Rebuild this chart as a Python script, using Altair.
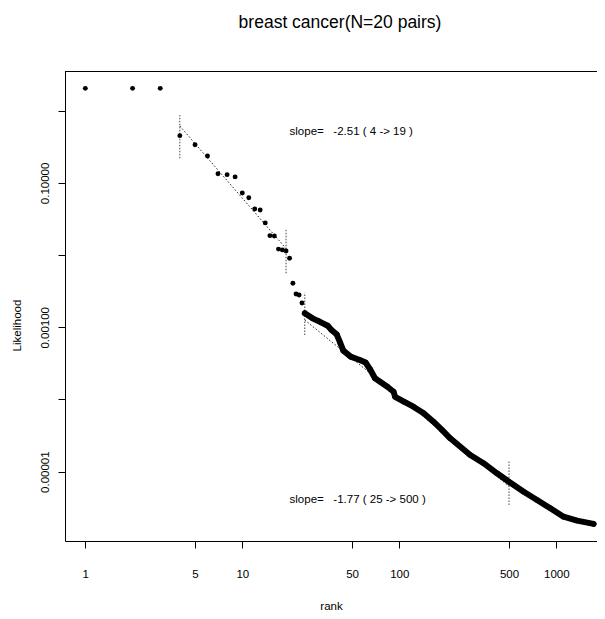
import altair as alt
import pandas as pd

FONT = "Liberation Sans, Arial, Helvetica, sans-serif"

# discrete points (rank, likelihood)
sparse_rank = list(range(1, 26))
sparse_lik = [2.04, 2.04, 2.04, 0.451, 0.338, 0.236, 0.134, 0.130, 0.121, 0.0725,
              0.0624, 0.0435, 0.0421, 0.0279, 0.0186, 0.0184, 0.0121, 0.0118, 0.0114,
              0.00903, 0.00407, 0.00289, 0.00280, 0.00217, 0.00159]

# dense tail (read along the thick strand of points)
dense_rank = [25, 28, 31, 35, 37, 40, 42, 44, 49, 56, 61, 65, 70, 84, 92, 94, 107,
              123, 143, 165, 187, 211, 283, 344, 419, 505, 620, 754, 916, 1112, 1355, 1729]
dense_lik = [1.56e-3, 1.33e-3, 1.20e-3, 1.05e-3, 9.18e-4, 7.94e-4, 6.12e-4, 4.74e-4,
             3.92e-4, 3.52e-4, 3.25e-4, 2.64e-4, 1.97e-4, 1.50e-4, 1.28e-4, 1.09e-4,
             9.33e-5, 7.94e-5, 6.44e-5, 4.93e-5, 3.79e-5, 2.90e-5, 1.70e-5, 1.31e-5,
             9.5e-6, 7.13e-6, 5.28e-6, 4.06e-6, 3.11e-6, 2.38e-6, 2.10e-6, 1.89e-6]

# fitted lines
fit_r1 = [4, 25]
fit_r2 = [19, 500]
fit_l1 = [0.614, 1.26e-3]
fit_l2 = [0.0123, 6.28e-6]

# vertical markers at fit ends
seg_rank = [4, 19, 25, 500]
seg_lo = [0.219, 0.0056, 7.82e-4, 3.46e-6]
seg_hi = [0.872, 0.0223, 0.00301, 1.38e-5]

# annotations (left-aligned at rank 20)
NB = "\u00a0"
ann_rank = [20, 20]
ann_lik = [0.5, 4.0e-6]
ann_text = [f"slope={NB*3}-2.51 ( 4 -> 19 )", f"slope={NB*3}-1.77 ( 25 -> 500 )"]

x_ticks = [1, 5, 10, 50, 100, 500, 1000]
y_ticks = [1, 0.1, 0.01, 0.001, 0.0001, 0.00001]
y_tick_labels = ["", "0.10000", "", "0.00100", "", "0.00001"]

W, H = 532, 470
xscale = alt.Scale(type="log", domain=[0.7424, 1817], nice=False, zero=False)
yscale = alt.Scale(type="log", domain=[1.096e-6, 3.548], nice=False, zero=False)

ylab_expr = " : ".join(
    f"datum.value == {v!r} ? '{t}'" for v, t in zip(y_ticks, y_tick_labels)
) + " : ''"

LFS = 11.5
xaxis = alt.Axis(values=x_ticks, labelExpr="format(datum.value, 'd')", grid=False,
                 tickSize=7, tickColor="black", domainColor="black", domainWidth=1,
                 labelFont=FONT, labelFontSize=LFS, labelColor="black", labelPadding=20,
                 labelFlush=False, labelOverlap=False,
                 title="rank", titleFont=FONT, titleFontSize=LFS, titleFontWeight="normal",
                 titleColor="black", titleY=65, titleBaseline="middle")
yaxis = alt.Axis(values=y_ticks, labelExpr=ylab_expr, grid=False,
                 tickSize=7, tickColor="black", domainColor="black", domainWidth=1,
                 labelFont=FONT, labelFontSize=LFS, labelColor="black", labelPadding=8,
                 labelAngle=270, labelAlign="center", labelBaseline="bottom",
                 labelFlush=False, labelOverlap=False,
                 title="Likelihood", titleFont=FONT, titleFontSize=LFS,
                 titleFontWeight="normal", titleColor="black", titleAngle=270,
                 titleX=-48, titleY=254, titleBaseline="middle", titleAlign="center")

X = alt.X("rank:Q", scale=xscale, axis=xaxis)
Y = alt.Y("lik:Q", scale=yscale, axis=yaxis)

df_sparse = pd.DataFrame({"rank": sparse_rank, "lik": sparse_lik})
df_dense = pd.DataFrame({"rank": dense_rank, "lik": dense_lik})
df_fit = pd.DataFrame({"rank": fit_r1, "rank2": fit_r2, "lik": fit_l1, "lik2": fit_l2})
df_seg = pd.DataFrame({"rank": seg_rank, "lik": seg_lo, "lik2": seg_hi})
df_ann = pd.DataFrame({"rank": ann_rank, "lik": ann_lik, "t": ann_text})
df_one = pd.DataFrame({"k": [0]})

fit = alt.Chart(df_fit).mark_rule(color="#222", strokeWidth=1, strokeDash=[1.5, 2]).encode(
    x=X, y=Y, x2="rank2:Q", y2="lik2:Q")
seg = alt.Chart(df_seg).mark_rule(color="#444", strokeWidth=1, strokeDash=[1.5, 1.5]).encode(
    x=X, y=Y, y2="lik2:Q")
dense_line = alt.Chart(df_dense).mark_line(color="black", strokeWidth=6, strokeCap="round",
                                           strokeJoin="round").encode(x=X, y=Y)
dense_pts = alt.Chart(df_dense).mark_circle(color="black", size=30, opacity=1).encode(x=X, y=Y)
pts = alt.Chart(df_sparse).mark_circle(color="black", size=24, opacity=1).encode(x=X, y=Y)
ann = alt.Chart(df_ann).mark_text(font=FONT, fontSize=11.5, color="black",
                                  align="left", baseline="middle").encode(x=X, y=Y, text="t:N")
top_border = alt.Chart(df_one).mark_rule(color="black", strokeWidth=1).encode(
    x=alt.value(0), x2=alt.value(W), y=alt.value(0.5))

chart = alt.layer(fit, seg, dense_line, dense_pts, pts, ann, top_border).properties(
    width=W, height=H,
    title=alt.TitleParams("breast cancer(N=20 pairs)", font=FONT, fontSize=17.5,
                          fontWeight="normal", color="black", anchor="middle", dx=9,
                          baseline="alphabetic", offset=26),
    autosize=alt.AutoSizeParams(type="none"),
    padding={"left": 57, "top": 63, "right": 0, "bottom": 70},
).configure_view(stroke=None).configure(background="white")

chart.save("out.html", embed_options={"renderer": "svg", "actions": False})
